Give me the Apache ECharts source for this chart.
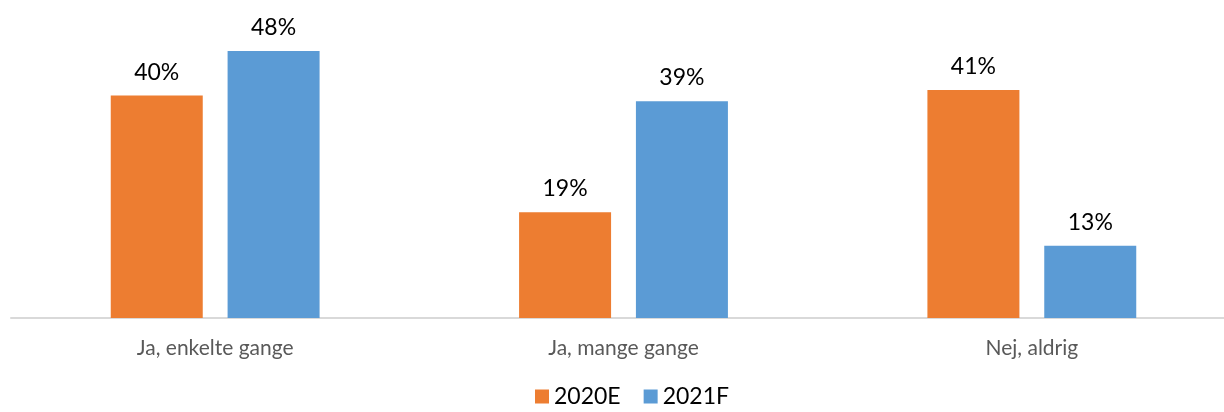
<!DOCTYPE html>
<html>
<head>
<meta charset="utf-8">
<script src="https://cdn.jsdelivr.net/npm/echarts@6/dist/echarts.min.js"></script>
<style>
  html, body { margin: 0; padding: 0; background: #fff; }
  #chart { width: 1224px; height: 412px; }
</style>
</head>
<body>
<div id="chart"></div>
<script>
const categories = ['Ja, enkelte gange', 'Ja, mange gange', 'Nej, aldrig']
const seriesNames = ['2020E', '2021F']
const values2020 = [40, 19, 41]
const values2021 = [48, 39, 13]

const chart = echarts.init(document.getElementById('chart'))
const font = 'Lato, "Open Sans", sans-serif'

const makeSeries = (name, data, color) => ({
  name: name,
  type: 'bar',
  data: data,
  barWidth: 92,
  barGap: '27%',
  itemStyle: { color: color },
  label: {
    show: true,
    position: 'top',
    distance: 12,
    formatter: '{c}%',
    color: '#000',
    fontSize: 23,
    fontFamily: font
  }
})

chart.setOption({
  animation: false,
  grid: { left: 11, right: -12, top: 40, height: 278, outerBoundsMode: 'none', containLabel: false },
  legend: {
    bottom: -1,
    left: 530,
    itemWidth: 14,
    itemHeight: 14,
    itemGap: 23,
    icon: 'rect',
    textStyle: { fontSize: 23, color: '#000', fontFamily: font },
    data: seriesNames
  },
  xAxis: {
    type: 'category',
    data: categories,
    axisLine: { lineStyle: { color: '#d9d9d9', width: 2 } },
    axisTick: { show: false },
    axisLabel: { color: '#595959', fontSize: 21, margin: 20, fontFamily: font }
  },
  yAxis: {
    type: 'value',
    min: 0,
    max: 50,
    show: false
  },
  series: [
    makeSeries(seriesNames[0], values2020, '#ED7D31'),
    makeSeries(seriesNames[1], values2021, '#5B9BD5')
  ]
})
</script>
</body>
</html>
